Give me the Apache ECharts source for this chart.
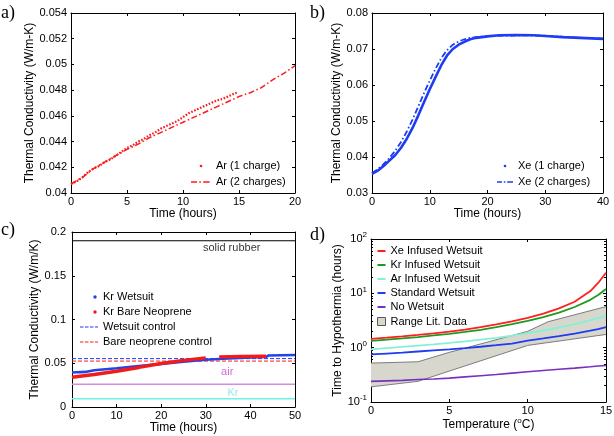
<!DOCTYPE html>
<html><head><meta charset="utf-8">
<script src="https://cdn.jsdelivr.net/npm/echarts@6/dist/echarts.min.js"></script>
<style>html,body{margin:0;padding:0;background:#fff}#c{width:614px;height:436px}</style>
</head><body><div id="c"></div>
<script>
// ---------- Panel a: Ar ----------
const arTime1 = [0,0.5,1,1.5,2,2.5,3,3.5,4,4.5,5,5.5,6,6.5,7,7.5,8,8.5,9,9.5,10,10.5,11,11.5,12,12.5,13,13.5,14,14.5,14.8];
const arCond1 = [0.0407,0.0409,0.0412,0.0416,0.0419,0.0421,0.0424,0.0426,0.0429,0.0432,0.0435,0.0437,0.0440,0.0442,0.0445,0.0447,0.0450,0.0452,0.0454,0.0456,0.0459,0.0462,0.0464,0.0466,0.0468,0.0470,0.0472,0.0473,0.0475,0.0477,0.0478];
const arTime2 = [0,1,2,3,4,5,6,7,8,9,10,11,12,13,14,15,16,17,18,19,20];
const arCond2 = [0.0407,0.0412,0.0419,0.0424,0.0429,0.0434,0.0438,0.0443,0.0447,0.0451,0.0455,0.0459,0.0463,0.0467,0.0471,0.0475,0.0478,0.0482,0.0488,0.0493,0.0499];
// ---------- Panel b: Xe ----------
const xeTime1 = [0,1,2,3,4,5,6,7,8,9,10,11,12,13,14,15,16,17,18,20,22,25,28,30,33,36,40];
const xeCond1 = [0.0353,0.0362,0.0375,0.0390,0.0405,0.0425,0.0450,0.0480,0.0515,0.0552,0.0588,0.0622,0.0655,0.0682,0.0700,0.0712,0.0720,0.0727,0.0731,0.0735,0.0738,0.0739,0.0738,0.0736,0.0733,0.0731,0.0728];
const xeTime2 = [0,1,2,3,4,5,6,7,8,9,10,11,12,13,14,15,16,17,18,20,25,30,35,40];
const xeCond2 = [0.0355,0.0366,0.0380,0.0397,0.0417,0.0441,0.0470,0.0503,0.0540,0.0577,0.0612,0.0645,0.0675,0.0697,0.0712,0.0721,0.0727,0.0731,0.0733,0.0736,0.0738,0.0737,0.0732,0.0729];
// ---------- Panel c: Kr ----------
const krWetTime = [0,1,2,3,3.3,5,10,15,20,25,30,35,40,43.5,44,50];
const krWetCond = [0.0395,0.0397,0.0399,0.0401,0.0414,0.0420,0.0443,0.0468,0.0493,0.0518,0.0540,0.0555,0.0566,0.0571,0.0588,0.0594];
const krBareTime = [0,5,10,15,20,25,30,31,33,38,43.5];
const krBareCond = [0.0340,0.0372,0.0408,0.0452,0.0497,0.0533,0.0562,null,0.0573,0.0578,0.0580];
const ctrlTime = [0,50];
const wetCtrlCond = [0.0553,0.0553];
const bareCtrlCond = [0.0525,0.0525];
const rubberCond = [0.19,0.19];
const airCond = [0.026,0.026];
const krGasCond = [0.0095,0.0095];
const cLabelText = ['solid rubber','air','Kr'];
const cLabelTime = [35.8,34.8,36.1];
const cLabelCond = [0.182,0.040,0.016];
// ---------- Panel d: hypothermia ----------
const tempD = [0,1,2,3,4,5,6,7,8,9,10,11,12,13,14,14.5,15];
const xeHours = [1.45,1.53,1.62,1.72,1.84,1.98,2.15,2.38,2.68,3.05,3.55,4.25,5.3,7.0,11.0,15.5,24];
const krHours = [1.33,1.40,1.48,1.57,1.68,1.80,1.95,2.13,2.38,2.7,3.1,3.65,4.4,5.6,7.6,9.3,12];
const arHours = [0.93,0.98,1.03,1.09,1.15,1.22,1.30,1.40,1.52,1.67,1.86,2.07,2.35,2.7,3.2,3.5,3.9];
const stdHours = [0.75,0.78,0.81,0.85,0.89,0.93,0.98,1.04,1.11,1.19,1.35,1.48,1.63,1.82,2.05,2.2,2.4];
const noHours = [0.24,0.245,0.25,0.26,0.265,0.275,0.29,0.305,0.32,0.34,0.36,0.38,0.40,0.42,0.445,0.46,0.47];
const litUpperT = [0,3,5,10,11.3,15];
const litUpperV = [0.52,0.55,0.82,2.0,3.0,5.7];
const litLowerT = [0,3,10,15];
const litLowerV = [0.19,0.24,1.1,1.75];

const FONT = '"Liberation Sans", Arial, sans-serif';
const zip = (xs, ys) => xs.map((x, i) => [x, ys[i]]);

const grids = [
  {left:71, top:13, width:224, height:180},
  {left:372, top:13, width:231, height:180},
  {left:72, top:232, width:223, height:175},
  {left:371, top:239, width:235, height:163}
].map(g => Object.assign(g, {containLabel:false, outerBoundsMode:'none'}));

const xAxes = [], yAxes = [];
function baseAxis(extra) {
  return Object.assign({
    axisLine:{onZero:false, lineStyle:{color:'#000', width:1}},
    axisTick:{inside:true, length:3, lineStyle:{color:'#000', width:1}},
    splitLine:{show:false},
    axisLabel:{color:'#000', fontFamily:FONT, fontSize:11},
    nameLocation:'middle',
    nameTextStyle:{color:'#000', fontFamily:FONT, fontSize:12}
  }, extra);
}
function addAxes(g, xc, yc) {
  xAxes.push(baseAxis(Object.assign({type:'value', gridIndex:g, position:'bottom'}, xc,
    {axisLabel:Object.assign({color:'#000', fontFamily:FONT, fontSize:11, margin:3}, xc.axisLabel||{})})));
  xAxes.push(baseAxis({type:xc.type||'value', gridIndex:g, position:'top', min:xc.min, max:xc.max, interval:xc.interval, axisLabel:{show:false}, name:''}));
  yAxes.push(baseAxis(Object.assign({type:'value', gridIndex:g, position:'left', nameRotate:90}, yc,
    {axisLabel:Object.assign({color:'#000', fontFamily:FONT, fontSize:11, margin:4}, yc.axisLabel||{})})));
  const ym = baseAxis({type:yc.type||'value', gridIndex:g, position:'right', min:yc.min, max:yc.max, interval:yc.interval, axisLabel:{show:false}, name:''});
  if (yc.type === 'log') { ym.logBase = 10; ym.minorTick = yc.minorTick; }
  yAxes.push(ym);
}
addAxes(0, {min:0, max:20, interval:5, name:'Time (hours)', nameGap:12},
           {min:0.04, max:0.054, interval:0.002, name:'Thermal Conductivity (W/m-K)', nameGap:35});
addAxes(1, {min:0, max:40, interval:10, name:'Time (hours)', nameGap:12},
           {min:0.03, max:0.08, interval:0.01, name:'Thermal Conductivity (W/m-K)', nameGap:28});
addAxes(2, {min:0, max:50, interval:10, name:'Time (hours)', nameGap:13},
           {min:0, max:0.2, interval:0.05, name:'Thermal Conductivity (W/m/K)', nameGap:29, axisLabel:{margin:6}});
addAxes(3, {min:0, max:15, interval:5, name:'Temperature ({s|o}C)', nameGap:15,
            nameTextStyle:{color:'#000', fontFamily:FONT, fontSize:12, lineHeight:16, rich:{s:{fontFamily:FONT, fontSize:8, lineHeight:9, verticalAlign:'top'}}}},
           {type:'log', logBase:10, min:0.1, max:100, name:'Time to Hypothermia (hours)', nameGap:20,
            minorTick:{show:true, splitNumber:9, length:2, lineStyle:{color:'#000'}},
            axisLabel:{formatter: v => '{b|10}{s|' + Math.round(Math.log10(v)) + '}',
              rich:{b:{fontFamily:FONT, fontSize:11, lineHeight:16, color:'#000'}, s:{fontFamily:FONT, fontSize:8, lineHeight:9, verticalAlign:'top', color:'#000'}}}});

function line(name, xi, xs, ys, color, width, type, extra) {
  return Object.assign({type:'line', name, xAxisIndex:xi, yAxisIndex:xi, data:zip(xs, ys),
    symbol:'none', showSymbol:false, connectNulls:false, clip:true,
    lineStyle:{color, width, type:type||'solid'}, itemStyle:{color}, silent:true}, extra||{});
}

const RED = '#ff1a1a', BLUE = '#1f3cf5';
const series = [
  line('Ar (1 charge)', 0, arTime1, arCond1, RED, 2.2, [1.6,1.6]),
  line('Ar (2 charges)', 0, arTime2, arCond2, RED, 1.5, [6,2.5,1.5,2.5]),
  line('Xe (1 charge)', 2, xeTime1, xeCond1, BLUE, 2.6, 'solid'),
  line('Xe (2 charges)', 2, xeTime2, xeCond2, BLUE, 1.8, [6,2.5,1.5,2.5]),
  line('solid rubber line', 4, ctrlTime, rubberCond, '#000', 1),
  line('air line', 4, ctrlTime, airCond, '#d58be0', 1.5),
  line('Kr line', 4, ctrlTime, krGasCond, '#6ff2e2', 1.5),
  line('Wetsuit control', 4, ctrlTime, wetCtrlCond, BLUE, 1, [4,2]),
  line('Bare neoprene control', 4, ctrlTime, bareCtrlCond, RED, 1, [4,2]),
  line('Kr Wetsuit', 4, krWetTime, krWetCond, '#2343e8', 2.6),
  line('Kr Bare Neoprene', 4, krBareTime, krBareCond, '#f01c1c', 3.4),
  {type:'scatter', name:'c labels', xAxisIndex:4, yAxisIndex:4, symbolSize:0, silent:true,
   data: cLabelText.map((t, i) => ({name:t, value:[cLabelTime[i], cLabelCond[i]]})),
   label:{show:true, position:'inside', formatter:p => p.name, fontFamily:FONT, fontSize:11,
     color: p => '#000'},
   z:5},
  {type:'custom', name:'Range Lit. Data', xAxisIndex:6, yAxisIndex:6, clip:true, silent:true, z:1,
   data:[[litUpperT[0], litUpperV[0]]],
   encode:{x:0, y:1},
   renderItem:(params, api) => {
     if (params.dataIndex !== 0) return null;
     const up = zip(litUpperT, litUpperV).map(p => api.coord(p));
     const lo = zip(litLowerT, litLowerV).map(p => api.coord(p));
     return {type:'group', children:[
       {type:'polygon', shape:{points: up.concat(lo.slice().reverse())}, style:{fill:'#d7d7cd', stroke:null}},
       {type:'polyline', shape:{points: up}, style:{stroke:'#7d7d7d', lineWidth:1, fill:null}},
       {type:'polyline', shape:{points: lo}, style:{stroke:'#7d7d7d', lineWidth:1, fill:null}}
     ]};
   }},
  line('No Wetsuit', 6, tempD, noHours, '#7a2fc0', 1.6, 'solid', {z:3}),
  line('Standard Wetsuit', 6, tempD, stdHours, '#1f3cf0', 1.8, 'solid', {z:3}),
  line('Ar Infused Wetsuit', 6, tempD, arHours, '#86f0d6', 1.8, 'solid', {z:3}),
  line('Kr Infused Wetsuit', 6, tempD, krHours, '#1f9a1f', 1.8, 'solid', {z:3}),
  line('Xe Infused Wetsuit', 6, tempD, xeHours, '#ff1f1f', 1.8, 'solid', {z:3})
];
// colour c labels individually
const cLabelColors = {'solid rubber':'#000', 'air':'#cc44cc', 'Kr':'#86e2e2'};
series[11].data.forEach(d => { d.label = {color: cLabelColors[d.name]}; });
delete series[11].label.color;

function legendItem(name, icon, color, extra) {
  return {name, icon:'path://' + icon, itemStyle:Object.assign({color, borderWidth:0, opacity:1}, extra||{})};
}
function legend(left, top, itemWidth, itemHeight, itemGap, data) {
  return {left, top, orient:'vertical', itemWidth, itemHeight, itemGap, padding:0, selectedMode:false,
    textStyle:{color:'#000', fontFamily:FONT, fontSize:11}, data, backgroundColor:'transparent'};
}
const dotA = 'M0,0M20,12M10,4.7a1.3,1.3 0 1,1 0,2.6a1.3,1.3 0 1,1 0,-2.6z';
const dashDotA = 'M0,0M20,12M0,5.3h6v1.4h-6zM8.3,5.3h1.6v1.4h-1.6zM12.2,5.3h6.5v1.4h-6.5z';
const dotB = 'M0,0M16,12M8,4.7a1.3,1.3 0 1,1 0,2.6a1.3,1.3 0 1,1 0,-2.6z';
const dashDotB = 'M0,0M16,12M0,5.2h5v1.6h-5zM6.8,5.2h1.6v1.6h-1.6zM10.2,5.2h5.8v1.6h-5.8z';
const dotC = 'M0,0M18,11M15,3.8a1.7,1.7 0 1,1 0,3.4a1.7,1.7 0 1,1 0,-3.4z';
const dashC = 'M0,0M18,11M0,5h3.5v1h-3.5zM5,5h3.5v1h-3.5zM10,5h3.5v1h-3.5zM15,5h3v1h-3z';
const lineD = 'M0,0M10,11M2,4.5h8v2h-8z';
const rectD = 'M0,0M10,11M2,1.5h8v8h-8z';

const option = {
  animation:false,
  backgroundColor:'#fff',
  grid:grids, xAxis:xAxes, yAxis:yAxes, series,
  legend:[
    legend(191, 160, 20, 12, 4, [legendItem('Ar (1 charge)', dotA, RED), legendItem('Ar (2 charges)', dashDotA, RED)]),
    legend(497, 160, 16, 12, 4, [legendItem('Xe (1 charge)', dotB, BLUE), legendItem('Xe (2 charges)', dashDotB, BLUE)]),
    legend(80, 291.5, 18, 11, 4, [legendItem('Kr Wetsuit', dotC, '#2343e8'), legendItem('Kr Bare Neoprene', dotC, '#f01c1c'),
      legendItem('Wetsuit control', dashC, BLUE), legendItem('Bare neoprene control', dashC, RED)]),
    legend(375, 245.5, 10, 11, 3, [legendItem('Xe Infused Wetsuit', lineD, '#ff1f1f'), legendItem('Kr Infused Wetsuit', lineD, '#1f9a1f'),
      legendItem('Ar Infused Wetsuit', lineD, '#86f0d6'), legendItem('Standard Wetsuit', lineD, '#1f3cf0'),
      legendItem('No Wetsuit', lineD, '#7a2fc0'), legendItem('Range Lit. Data', rectD, '#d7d7cd', {borderColor:'#555', borderWidth:1})])
  ],
  graphic:[
    {type:'text', left:1, top:4, style:{text:'a)', font:'18px "Liberation Serif", serif', fill:'#000'}},
    {type:'text', left:310, top:4, style:{text:'b)', font:'18px "Liberation Serif", serif', fill:'#000'}},
    {type:'text', left:1, top:221, style:{text:'c)', font:'18px "Liberation Serif", serif', fill:'#000'}},
    {type:'text', left:310, top:226, style:{text:'d)', font:'18px "Liberation Serif", serif', fill:'#000'}}
  ]
};
const chart = echarts.init(document.getElementById('c'), null, {renderer:'canvas'});
chart.setOption(option);
</script></body></html>
